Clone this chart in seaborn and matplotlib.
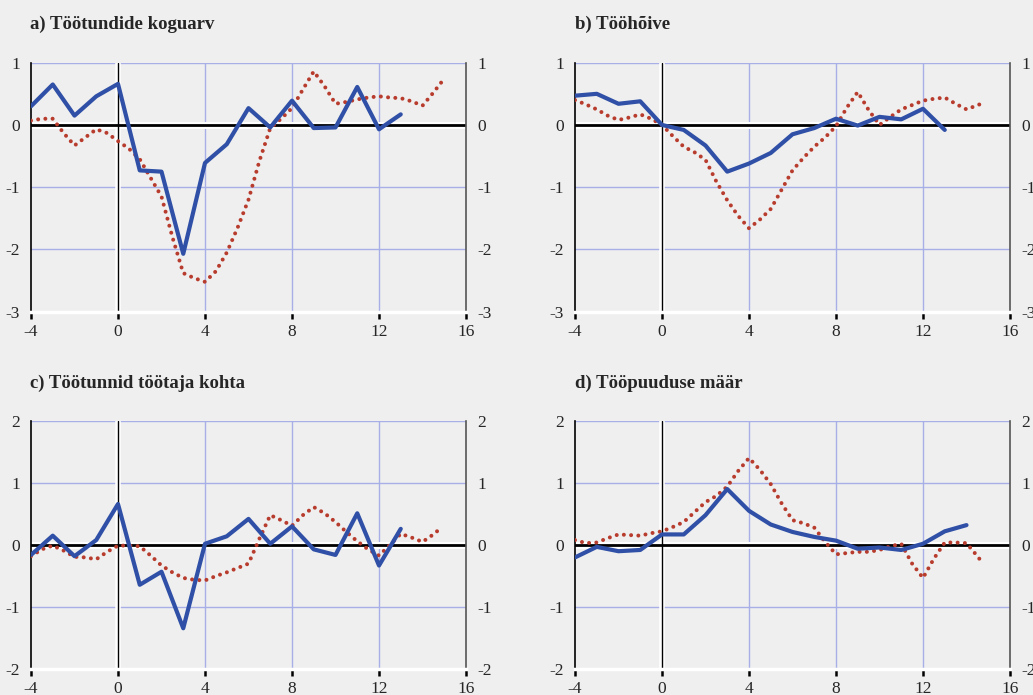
import numpy as np
import pandas as pd
import matplotlib
matplotlib.use("Agg")
import matplotlib.pyplot as plt
import seaborn as sns

# ========================= DATA =========================
# quarters (blue, data) and half-quarter steps (red, model)
q_abc = [-4, -3, -2, -1, 0, 1, 2, 3, 4, 5, 6, 7, 8, 9, 10, 11, 12, 13]
q_d = [-4, -3, -2, -1, 0, 1, 2, 3, 4, 5, 6, 7, 8, 9, 10, 11, 12, 13, 14]
half = list(np.arange(-4, 14.5, 0.5))  # -4 ... 14

blue_a = [0.30, 0.65, 0.15, 0.46, 0.66, -0.73, -0.75, -2.07, -0.61, -0.31,
          0.27, -0.04, 0.39, -0.05, -0.04, 0.61, -0.07, 0.17]
red_a = [0.07, 0.10, 0.10, -0.13, -0.33, -0.20, -0.07, -0.13, -0.26, -0.38,
         -0.55, -0.85, -1.15, -1.80, -2.38, -2.46, -2.52, -2.35, -2.05, -1.65,
         -1.20, -0.58, -0.05, 0.10, 0.27, 0.57, 0.86, 0.62, 0.34, 0.37,
         0.41, 0.44, 0.46, 0.44, 0.43, 0.38, 0.31, 0.52, 0.70]
x_red_a = half + [14.5, 14.9]

blue_b = [0.47, 0.50, 0.34, 0.38, 0.00, -0.08, -0.33, -0.75, -0.62, -0.45,
          -0.15, -0.05, 0.10, -0.01, 0.13, 0.09, 0.26, -0.08]
red_b = [0.40, 0.33, 0.25, 0.15, 0.08, 0.12, 0.17, 0.10, 0.00, -0.18,
         -0.35, -0.44, -0.56, -0.91, -1.21, -1.46, -1.66, -1.52, -1.35, -1.04,
         -0.73, -0.53, -0.35, -0.20, -0.02, 0.28, 0.53, 0.24, 0.00, 0.13,
         0.25, 0.32, 0.39, 0.42, 0.44, 0.34, 0.25, 0.33]
x_red_b = half + [14.6]

blue_c = [-0.16, 0.15, -0.18, 0.08, 0.66, -0.64, -0.43, -1.34, 0.02, 0.14,
          0.42, 0.02, 0.30, -0.07, -0.16, 0.51, -0.33, 0.26]
red_c = [-0.18, -0.07, -0.01, -0.09, -0.19, -0.20, -0.23, -0.11, -0.01, -0.01,
         -0.02, -0.17, -0.33, -0.44, -0.53, -0.56, -0.57, -0.50, -0.44, -0.37,
         -0.30, 0.10, 0.48, 0.40, 0.31, 0.48, 0.61, 0.51, 0.37, 0.21,
         0.06, -0.07, -0.17, 0.00, 0.18, 0.12, 0.05, 0.17, 0.29]
x_red_c = half + [14.5, 14.9]

blue_d = [-0.20, -0.03, -0.10, -0.08, 0.17, 0.17, 0.48, 0.90, 0.55, 0.33,
          0.21, 0.13, 0.07, -0.06, -0.04, -0.08, 0.02, 0.22, 0.32]
red_d = [0.08, 0.03, 0.04, 0.11, 0.17, 0.16, 0.15, 0.19, 0.22, 0.29,
         0.37, 0.53, 0.69, 0.79, 0.94, 1.19, 1.40, 1.21, 0.98, 0.67,
         0.40, 0.35, 0.28, 0.05, -0.15, -0.13, -0.11, -0.11, -0.08, -0.02,
         0.02, -0.30, -0.53, -0.22, 0.04, 0.04, 0.03, -0.18, -0.27]
x_red_d = half + [14.5, 14.7]

titles = ["a) Töötundide koguarv", "b) Tööhõive",
          "c) Töötunnid töötaja kohta", "d) Tööpuuduse määr"]
x_ticks = [-4, 0, 4, 8, 12, 16]
y_ticks_top = [-3, -2, -1, 0, 1]
y_ticks_bot = [-2, -1, 0, 1, 2]

# ========================= STYLE =========================
sns.set_theme(style="white", rc={"axes.facecolor": "#efefef",
                                 "figure.facecolor": "#efefef"})
plt.rcParams['font.family'] = ['Liberation Serif', 'DejaVu Serif']

BLUE = "#2f50a6"
RED = "#b83c2d"
GRID = "#a7afe6"

W, H = 1033, 695
fig = plt.figure(figsize=(W / 100, H / 100), dpi=100)


def px_axes(left, top, right, bottom):
    return fig.add_axes([left / W, 1 - bottom / H, (right - left) / W, (bottom - top) / H])


panels = [
    (px_axes(31, 62.7, 466, 311.7), q_abc, blue_a, x_red_a, red_a, y_ticks_top),
    (px_axes(575, 62.7, 1010, 311.7), q_abc, blue_b, x_red_b, red_b, y_ticks_top),
    (px_axes(31, 420.7, 466, 669.3), q_abc, blue_c, x_red_c, red_c, y_ticks_bot),
    (px_axes(575, 420.7, 1010, 669.3), q_d, blue_d, x_red_d, red_d, y_ticks_bot),
]
title_pos = [(30, 29), (575, 29), (30, 388), (575, 388)]

for i, (ax, xq, yb, xr, yr, yt) in enumerate(panels):
    ax.set_xlim(-4, 16)
    ax.set_ylim(yt[0], yt[-1])
    ax.set_xticks(x_ticks)
    ax.set_yticks(yt)
    ax.set_xticklabels([str(t) for t in x_ticks])
    ax.set_yticklabels([str(t) for t in yt])

    # grid
    for gx in [4, 8, 12]:
        ax.axvline(gx, color=GRID, lw=1.0, zorder=0.5)
    for gy in yt[1:]:
        ax.axhline(gy, color=GRID, lw=1.0, zorder=0.5)

    # zero lines: white band with black line on top
    ax.axhline(0, color="white", lw=5, zorder=0.8)
    ax.axhline(0, color="black", lw=2.0, zorder=0.9)
    ax.axvline(0, color="white", lw=4, zorder=0.8)
    ax.axvline(0, color="black", lw=1.0, zorder=0.9)

    sns.lineplot(x=xr, y=yr, ax=ax, color=RED, lw=2.9,
                 linestyle=(0, (0.001, 1.8)), dash_capstyle="round", zorder=3)
    sns.lineplot(x=xq, y=yb, ax=ax, color=BLUE, lw=3.0, zorder=4)

    ax.set_xlabel("")
    ax.set_ylabel("")

    ax.spines["top"].set_visible(False)
    ax.spines["left"].set_color("black")
    ax.spines["left"].set_linewidth(1.2)
    ax.spines["right"].set_color("#555555")
    ax.spines["right"].set_linewidth(1.2)
    ax.spines["bottom"].set_color("white")
    ax.spines["bottom"].set_linewidth(2.5)

    ax.tick_params(axis="x", direction="out", length=5, width=1.8, color="black",
                   labelsize=12.5, pad=3.5, bottom=True)
    ax.tick_params(axis="y", length=0, labelsize=12.5, pad=8,
                   left=False, right=False, labelleft=True, labelright=True)
    ax.grid(False)

    tx, ty = title_pos[i]
    fig.text(tx / W, 1 - ty / H, titles[i], fontsize=13.5, fontweight="bold",
             ha="left", va="baseline")

fig.savefig("out.png", dpi=100, facecolor=fig.get_facecolor())
